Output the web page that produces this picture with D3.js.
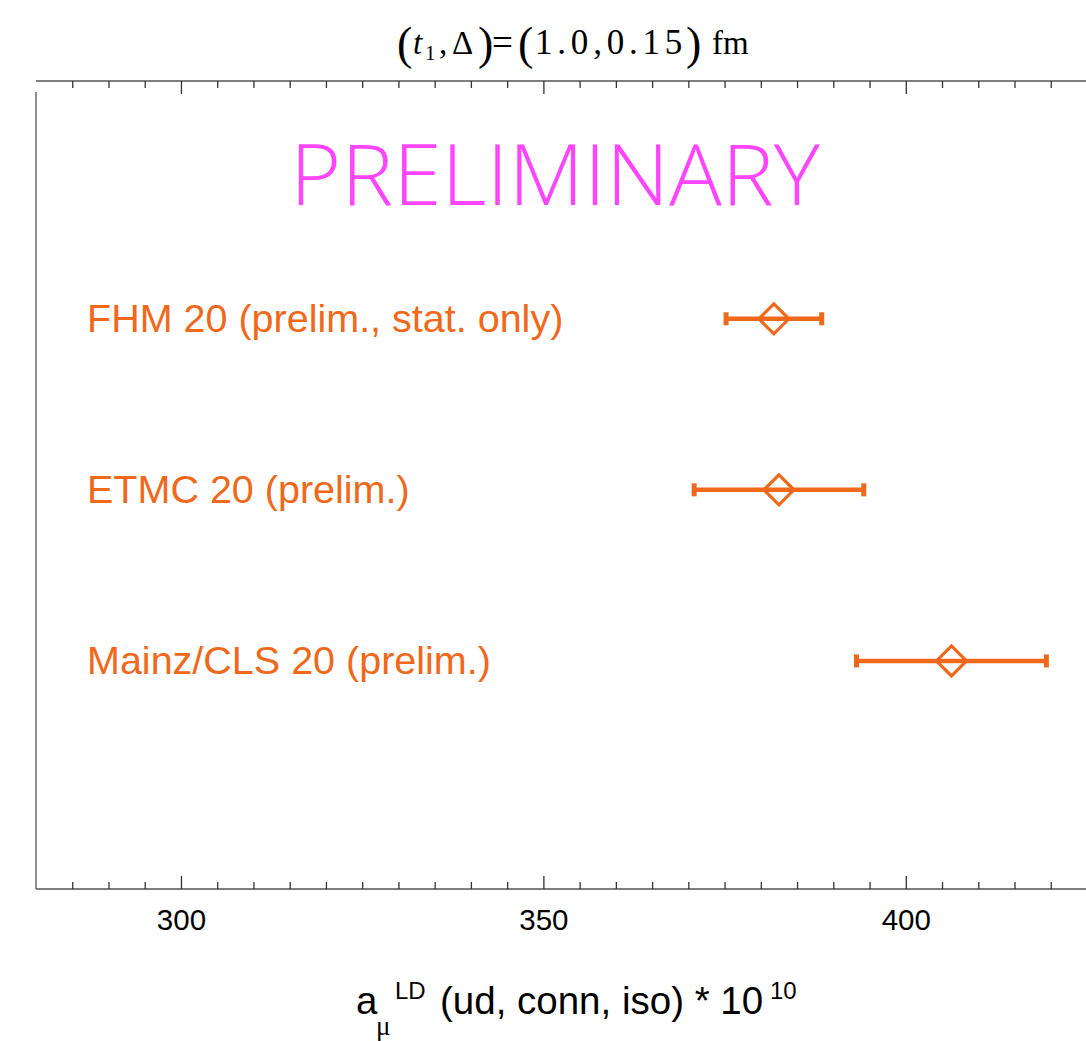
<!DOCTYPE html>
<html>
<head>
<meta charset="utf-8">
<script src="https://cdn.jsdelivr.net/npm/d3@7"></script>
<style>
  html, body { margin: 0; padding: 0; background: #fff; }
  svg { display: block; }
</style>
</head>
<body>
<svg id="chart" width="1086" height="1041"></svg>
<script>
// Lattice results for the long-distance window contribution
const collaborations = ["FHM 20 (prelim., stat. only)", "ETMC 20 (prelim.)", "Mainz/CLS 20 (prelim.)"];
const rowPositions   = [3, 2, 1];
const centralValues  = [381.8, 382.5, 406.3];
const errors         = [6.6, 11.7, 13.1];

const xMajorTicks = [300, 350, 400];
const xMinorTicks = [285, 290, 295, 305, 310, 315, 320, 325, 330, 335, 340, 345,
                     355, 360, 365, 370, 375, 380, 385, 390, 395, 405, 410, 415, 420];

const svg = d3.select("#chart");
const orange = "#F0681A";
const frameColor = "#555";

const plot = { left: 36, right: 1087, top: 81, bottom: 889 };

const x = d3.scaleLinear().domain([280, 425]).range([plot.left, plot.right]);
const y = d3.scaleLinear().domain([-1 / 3, 4.39]).range([plot.bottom, plot.top]);

// Frame: top, bottom and left edges
svg.append("line").attr("x1", plot.left).attr("x2", plot.right)
  .attr("y1", plot.top).attr("y2", plot.top)
  .attr("stroke", frameColor).attr("stroke-width", 1.3);
svg.append("line").attr("x1", plot.left).attr("x2", plot.right)
  .attr("y1", plot.bottom).attr("y2", plot.bottom)
  .attr("stroke", frameColor).attr("stroke-width", 1.3);
svg.append("line").attr("x1", plot.left).attr("x2", plot.left)
  .attr("y1", 92).attr("y2", plot.bottom)
  .attr("stroke", frameColor).attr("stroke-width", 1.3);

// Bottom axis: ticks point inward, labels on major ticks
const bottomMajor = d3.axisTop(x).tickValues(xMajorTicks).tickSize(13).tickFormat(d3.format("d"));
const bottomMinor = d3.axisTop(x).tickValues(xMinorTicks).tickSize(7).tickFormat("");
const gB = svg.append("g").attr("transform", `translate(0,${plot.bottom})`);
gB.call(bottomMajor);
gB.append("g").call(bottomMinor);
gB.selectAll(".domain").remove();
gB.selectAll("line").attr("stroke", "#333").attr("stroke-width", 1.3);
gB.selectAll("text")
  .attr("y", 41).attr("dy", 0)
  .attr("fill", "#000")
  .style("font-family", "'Liberation Sans', Arial, sans-serif")
  .style("font-size", "29.5px");

// Top axis: mirrored ticks pointing down, no labels
const topMajor = d3.axisBottom(x).tickValues(xMajorTicks).tickSize(13).tickFormat("");
const topMinor = d3.axisBottom(x).tickValues(xMinorTicks).tickSize(7).tickFormat("");
const gT = svg.append("g").attr("transform", `translate(0,${plot.top})`);
gT.call(topMajor);
gT.append("g").call(topMinor);
gT.selectAll(".domain").remove();
gT.selectAll("line").attr("stroke", "#333").attr("stroke-width", 1.3);

// Watermark
svg.append("text")
  .attr("x", 290).attr("y", 205)
  .attr("textLength", 530).attr("lengthAdjust", "spacingAndGlyphs")
  .attr("fill", "#FF45FF")
  .style("font-family", "'Open Sans', 'Liberation Sans', sans-serif")
  .style("font-weight", 300)
  .style("font-size", "84px")
  .text("PRELIMINARY");

// Rows: label, error bar, caps and diamond marker
const rows = collaborations.map((name, i) => ({
  name, pos: rowPositions[i], value: centralValues[i], err: errors[i]
}));

const g = svg.append("g");

g.selectAll("text.label").data(rows).join("text")
  .attr("class", "label")
  .attr("x", 87).attr("y", d => y(d.pos) + 13)
  .attr("fill", orange)
  .style("font-family", "'Liberation Sans', Arial, sans-serif")
  .style("font-size", "39.5px")
  .text(d => d.name);

g.selectAll("line.bar").data(rows).join("line")
  .attr("class", "bar")
  .attr("x1", d => x(d.value - d.err)).attr("x2", d => x(d.value + d.err))
  .attr("y1", d => y(d.pos)).attr("y2", d => y(d.pos))
  .attr("stroke", orange).attr("stroke-width", 4.5);

["lo", "hi"].forEach(side => {
  g.selectAll(`line.cap-${side}`).data(rows).join("line")
    .attr("class", `cap-${side}`)
    .attr("x1", d => x(side === "lo" ? d.value - d.err : d.value + d.err))
    .attr("x2", d => x(side === "lo" ? d.value - d.err : d.value + d.err))
    .attr("y1", d => y(d.pos) - 6.5).attr("y2", d => y(d.pos) + 6.5)
    .attr("stroke", orange).attr("stroke-width", 5);
});

const diamond = (cx, cy, r) =>
  `M${cx},${cy - r}L${cx + r},${cy}L${cx},${cy + r}L${cx - r},${cy}Z`;

g.selectAll("path.marker").data(rows).join("path")
  .attr("class", "marker")
  .attr("d", d => diamond(x(d.value), y(d.pos), 15))
  .attr("fill", "none")
  .attr("stroke", orange).attr("stroke-width", 3.2)
  .attr("stroke-linejoin", "miter");

// Title: (t1, Δ) = (1.0, 0.15) fm, each piece placed on a baseline
const titleBase = 54;
const title = svg.append("text")
  .attr("y", titleBase)
  .attr("fill", "#000")
  .style("font-family", "'Liberation Serif', 'Times New Roman', serif")
  .style("font-size", "33px");
const piece = (px, txt, opts = {}) => {
  const t = title.append("tspan").attr("x", px).attr("y", titleBase + (opts.shift || 0)).text(txt);
  if (opts.size) t.style("font-size", opts.size + "px");
  if (opts.italic) t.style("font-style", "italic");
  if (opts.spacing) t.style("letter-spacing", opts.spacing + "px");
  return t;
};
piece(397, "(", { size: 46, shift: 5 });
piece(413, "t", { italic: true });
piece(425, "1", { size: 21, shift: 6 });
piece(439, ",");
piece(452, "Δ");
piece(478, ")", { size: 46, shift: 5 });
piece(492, "=", { size: 37, shift: 1 });
piece(518, "(", { size: 46, shift: 5 });
piece(535, "1.0,0.15", { size: 35, spacing: 4.8 });
piece(686, ")", { size: 46, shift: 5 });
piece(712, "fm");

// Axis title: a_μ^LD (ud, conn, iso) * 10^10
const xt = svg.append("text")
  .attr("x", 356).attr("y", 1014)
  .attr("fill", "#000")
  .style("font-family", "'Liberation Sans', Arial, sans-serif")
  .style("font-size", "38.5px");
xt.append("tspan").text("a");
xt.append("tspan").attr("x", 376).attr("y", 1035)
  .style("font-family", "'Liberation Serif', serif").style("font-size", "27px").text("μ");
xt.append("tspan").attr("x", 395).attr("y", 999).style("font-size", "24px").text("LD");
xt.append("tspan").attr("x", 440).attr("y", 1014).text("(ud, conn, iso) * 10");
xt.append("tspan").attr("x", 770).attr("y", 999).style("font-size", "24px").text("10");
</script>
</body>
</html>
